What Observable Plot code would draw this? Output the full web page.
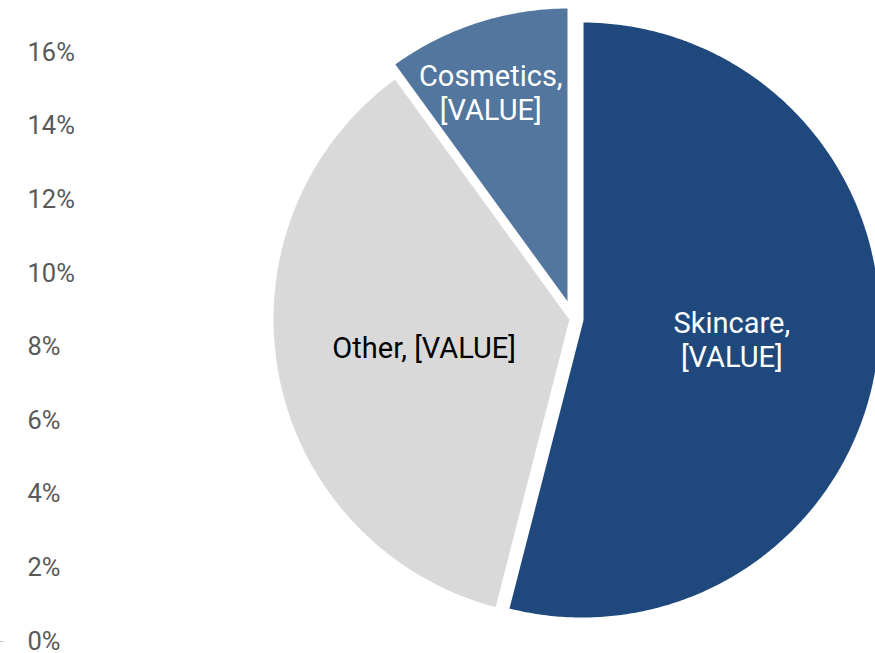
<!DOCTYPE html>
<html>
<head>
<meta charset="utf-8">
<script src="https://cdn.jsdelivr.net/npm/d3@7"></script>
<script src="https://cdn.jsdelivr.net/npm/@observablehq/plot@0.6"></script>
<style>
  html, body { margin: 0; padding: 0; background: #ffffff; }
  #chart svg { display: block; }
</style>
</head>
<body>
<div id="chart"></div>
<script>
// ---- data ----
const categories = ["Skincare", "Other", "Cosmetics"];
const shares = [54, 36, 10];
const labelTexts = ["Skincare,\n[VALUE]", "Other, [VALUE]", "Cosmetics,\n[VALUE]"];
const tickValues = [0, 2, 4, 6, 8, 10, 12, 14, 16];
const tickLabels = ["0%", "2%", "4%", "6%", "8%", "10%", "12%", "14%", "16%"];

// ---- styling / layout ----
const sliceColors = ["#1F497D", "#D9D9D9", "#52769E"];
const labelColors = ["#ffffff", "#000000", "#ffffff"];
const W = 875, H = 653;
const mTop = 52, mBottom = 12, mLeft = 3, mRight = 0;
const pxPerUnit = (H - mTop - mBottom) / 16;           // equal aspect for x and y units
const cx = (572.7 - mLeft) / pxPerUnit;                // pie centre in scale units
const cy = (H - mBottom - 318.4) / pxPerUnit;
const R = 299 / pxPerUnit;
const explodePx = {Skincare: 8.9, Other: 2.2, Cosmetics: 13.6};
const labelFrac = {Skincare: 0.505, Other: 0.50, Cosmetics: 0.76};
const labelShift = {Skincare: [0, 0], Other: [0, 0], Cosmetics: [-8, 2]};

// ---- build slices ----
const arcs = d3.pie().sort(null).value(d => d)(shares);
const slicePts = [];
const labelRows = [];
arcs.forEach((a, i) => {
  const cat = categories[i];
  const mid = (a.startAngle + a.endAngle) / 2;
  const e = explodePx[cat] / pxPerUnit;
  const ox = cx + e * Math.sin(mid);
  const oy = cy + e * Math.cos(mid);
  slicePts.push({category: cat, x: ox, y: oy});
  const n = Math.max(8, Math.ceil((a.endAngle - a.startAngle) / (Math.PI / 360)));
  for (let j = 0; j <= n; j++) {
    const t = a.startAngle + (a.endAngle - a.startAngle) * j / n;
    slicePts.push({category: cat, x: ox + R * Math.sin(t), y: oy + R * Math.cos(t)});
  }
  const lr = R * labelFrac[cat];
  labelRows.push({
    category: cat,
    text: labelTexts[i],
    color: labelColors[i],
    x: ox + lr * Math.sin(mid),
    y: oy + lr * Math.cos(mid),
    dx: labelShift[cat][0],
    dy: labelShift[cat][1]
  });
});

const labelMarks = labelRows.map(d => Plot.text([d], {
  x: "x", y: "y", text: "text", fill: d.color,
  dx: d.dx, dy: d.dy,
  fontSize: 29, lineHeight: 1.17, textAnchor: "middle", lineAnchor: "middle",
  fontFamily: "Roboto"
}));

const chart = Plot.plot({
  width: W, height: H,
  marginTop: mTop, marginBottom: mBottom, marginLeft: mLeft, marginRight: mRight,
  x: {domain: [0, (W - mLeft - mRight) / pxPerUnit], axis: null},
  y: {domain: [0, 16], label: null},
  color: {domain: categories, range: sliceColors},
  style: {fontFamily: "Roboto", background: "#ffffff", overflow: "hidden"},
  marks: [
    Plot.line(slicePts, {
      x: "x", y: "y", z: "category", fill: "category",
      stroke: "#ffffff", strokeWidth: 3, curve: "linear-closed",
      strokeLinejoin: "miter", strokeMiterlimit: 10
    }),
    ...labelMarks,
    Plot.axisY(tickValues, {
      anchor: "left", tickSize: 0, tickPadding: 0, dx: 24,
      textAnchor: "start", fontSize: 25.5, fill: "#595959",
      tickFormat: d => tickLabels[tickValues.indexOf(d)],
      fontFamily: "Roboto"
    }),
    Plot.axisY([0], {
      anchor: "left", tickSize: 3, tickFormat: () => "", stroke: "#bfbfbf"
    })
  ]
});
document.getElementById("chart").appendChild(chart);
</script>
</body>
</html>
